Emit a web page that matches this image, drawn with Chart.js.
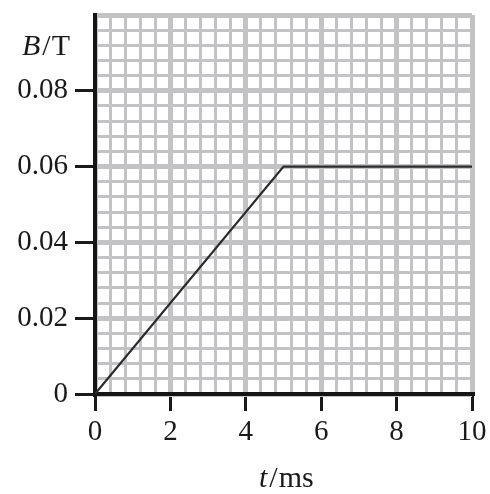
<!DOCTYPE html>
<html>
<head>
<meta charset="utf-8">
<script src="https://cdn.jsdelivr.net/npm/chart.js@4"></script>
<style>
  html, body { margin: 0; padding: 0; background: #fff; }
  canvas { display: block; }
</style>
</head>
<body>
<canvas id="bChart" width="490" height="494"></canvas>
<script>
// B against t: ramp to 0.06 T at 5 ms, then flat
const times = [0, 5, 10];
const fieldValues = [0, 0.06, 0.06];

const xTickLabels = [0, 2, 4, 6, 8, 10];
const yTickLabels = [0, 0.02, 0.04, 0.06, 0.08];

// graph paper: 5 small squares per labelled step
const xMinor = 0.4, xMajor = 2, xMax = 10;
const yMinor = 0.004, yMajor = 0.02, yMax = 0.1;

const serif = "'Liberation Serif', 'DejaVu Serif', serif";
const gridGray = '#c3c3c6';
const ink = '#1a1a1a';

function isMultiple(v, step) {
  const r = v / step;
  return Math.abs(r - Math.round(r)) < 1e-6;
}
function inList(v, list) {
  return list.some(l => Math.abs(l - v) < 1e-9);
}
function gridTicks(max, step) {
  const out = [];
  const n = Math.round(max / step);
  for (let i = 0; i <= n; i++) out.push({ value: +(i * step).toFixed(6) });
  return out;
}

// axis titles with the italic quantity symbol
const axisTitles = {
  id: 'axisTitles',
  afterDraw(chart) {
    const ctx = chart.ctx;
    function titled(sym, unit, x, y) {
      ctx.save();
      ctx.fillStyle = ink;
      ctx.textBaseline = 'alphabetic';
      ctx.textAlign = 'left';
      ctx.font = 'italic 30px ' + serif;
      ctx.fillText(sym, x, y);
      let cx = x + ctx.measureText(sym).width + 2;
      ctx.font = '30px ' + serif;
      ctx.fillText('/', cx, y);
      cx += ctx.measureText('/').width + 1;
      ctx.fillText(unit, cx, y);
      ctx.restore();
    }
    titled('B', 'T', 22, 55);
    titled('t', 'ms', 259, 487);
  }
};

new Chart('bChart', {
  type: 'line',
  data: {
    datasets: [{
      data: times.map((t, i) => ({ x: t, y: fieldValues[i] })),
      borderColor: '#2b2b2b',
      borderWidth: 2.2,
      pointRadius: 0,
      fill: false,
      tension: 0
    }]
  },
  options: {
    responsive: false,
    animation: false,
    devicePixelRatio: 1,
    layout: { padding: { left: 0, top: 15, right: 18, bottom: 0 } },
    plugins: {
      legend: { display: false },
      tooltip: { enabled: false }
    },
    scales: {
      x: {
        type: 'linear',
        min: 0,
        max: xMax,
        afterBuildTicks: axis => { axis.ticks = gridTicks(xMax, xMinor); },
        afterFit: axis => { axis.height = 100; axis.paddingLeft = 0; axis.paddingRight = 0; },
        border: { display: true, color: '#151515', width: 4 },
        grid: {
          color: c => gridGray,
          lineWidth: c => isMultiple(c.tick.value, xMajor) ? 5 : 3,
          drawTicks: true,
          tickLength: 17,
          tickColor: c => inList(c.tick.value, xTickLabels) ? ink : 'rgba(0,0,0,0)',
          tickWidth: 3
        },
        ticks: {
          autoSkip: false,
          maxRotation: 0,
          padding: 4,
          color: ink,
          font: { family: serif, size: 29 },
          callback: v => inList(v, xTickLabels) ? String(Math.round(v)) : ''
        }
      },
      y: {
        type: 'linear',
        min: 0,
        max: yMax,
        afterBuildTicks: axis => { axis.ticks = gridTicks(yMax, yMinor); },
        afterFit: axis => { axis.width = 95; axis.paddingTop = 0; axis.paddingBottom = 0; },
        border: { display: true, color: '#151515', width: 4 },
        grid: {
          color: c => gridGray,
          lineWidth: c => isMultiple(c.tick.value, yMajor) ? 5 : 3,
          drawTicks: true,
          tickLength: 20,
          tickColor: c => inList(c.tick.value, yTickLabels) ? ink : 'rgba(0,0,0,0)',
          tickWidth: 3
        },
        ticks: {
          autoSkip: false,
          padding: 7,
          color: ink,
          font: { family: serif, size: 29 },
          callback: v => inList(v, yTickLabels) ? (v === 0 ? '0' : v.toFixed(2)) : ''
        }
      }
    }
  },
  plugins: [axisTitles]
});
</script>
</body>
</html>
